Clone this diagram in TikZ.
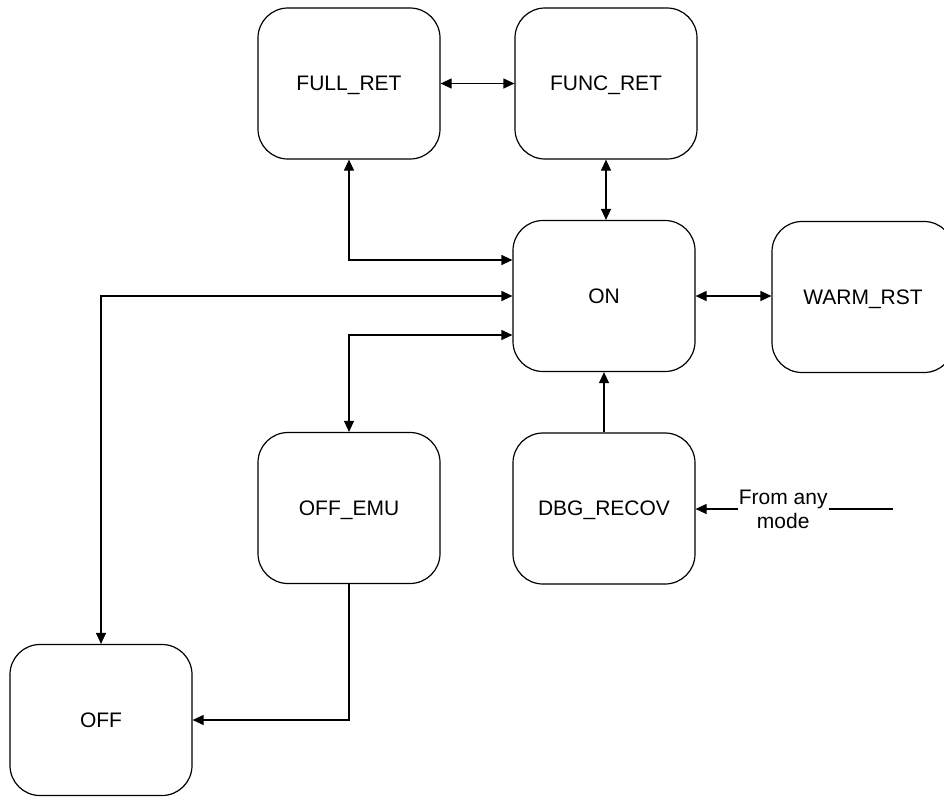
\documentclass[tikz,border=0pt]{standalone}
\usepackage{fontspec}
\setmainfont{Liberation Sans}
\usetikzlibrary{arrows.meta}
\begin{document}
\begin{tikzpicture}[x=1pt,y=-1pt,
  box/.style={draw, line width=1.2pt, rounded corners=30pt, minimum width=182pt, minimum height=151pt, inner sep=0pt, text depth=0pt, font=\fontsize{21}{24}\selectfont},
  conn/.style={line width=1.2pt, {Triangle[length=11pt,width=10pt]}-{Triangle[length=11pt,width=10pt]}},
  oneway/.style={line width=1.2pt, -{Triangle[length=11pt,width=10pt]}},
  lbl/.style={fill=white, inner sep=1pt, align=center, font=\fontsize{21}{24}\selectfont}]
\useasboundingbox (0,0) rectangle (944,796);
\node[box] (fullret) at (349,83.5) {FULL\_RET};
\node[box] (funcret) at (606,83.5) {FUNC\_RET};
\node[box] (on) at (604,296) {ON};
\node[box] (warm) at (863,297) {WARM\_RST};
\node[box] (offemu) at (349,508) {OFF\_EMU};
\node[box] (dbg) at (604,508.5) {DBG\_RECOV};
\node[box] (off) at (101,720) {OFF};
\coordinate (src) at (893,509);

\draw[conn] (fullret.east) -- (funcret.west);
\draw[conn] (funcret.south) -- (funcret.south |- on.north);
\draw[conn] ([yshift=36pt]on.west) -| (fullret.south);
\draw[conn] (on.west) -| (off.north);
\draw[conn] ([yshift=-39pt]on.west) -| (offemu.north);
\draw[conn] (on.east) -- (on.east -| warm.west);
\draw[oneway] (dbg.north) -- (dbg.north |- on.south);
\draw[oneway] (offemu.south) |- (off.east);
\draw[oneway] (src) -- node[lbl, pos=0.556] {From any\\mode} (src -| dbg.east);
\end{tikzpicture}
\end{document}
